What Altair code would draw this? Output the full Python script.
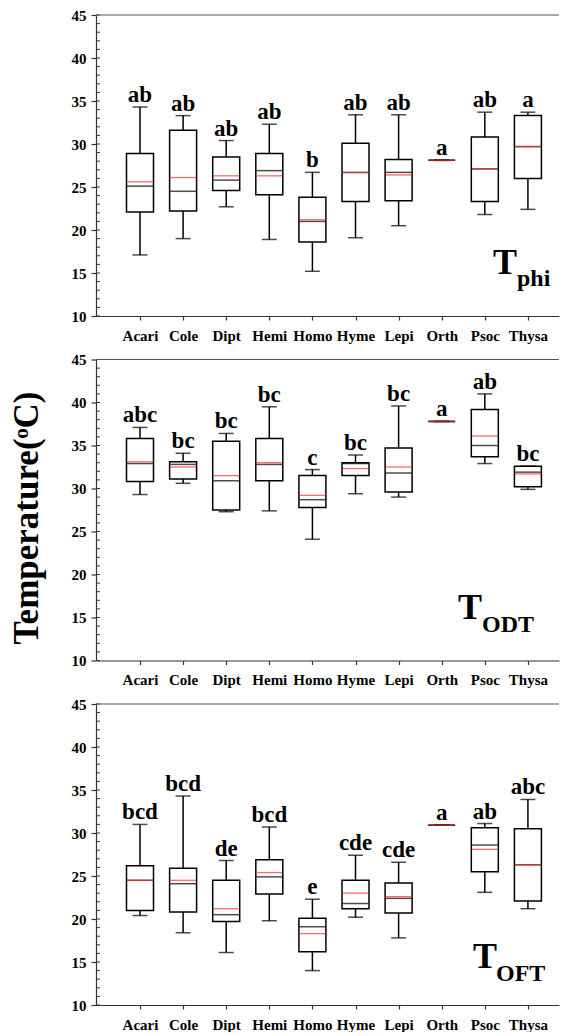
import altair as alt
import pandas as pd

CATEGORIES = ["Acari", "Cole", "Dipt", "Hemi", "Homo", "Hyme", "Lepi", "Orth", "Psoc", "Thysa"]

# Panel 1: T_phi
PHI_LO = [17.1, 19.0, 22.7, 18.9, 15.2, 19.1, 20.5, 28.1, 21.8, 22.4]
PHI_Q1 = [22.1, 22.2, 24.6, 24.1, 18.6, 23.3, 23.4, 28.1, 23.3, 26.0]
PHI_MED = [25.1, 24.5, 25.8, 26.9, 21.0, 26.7, 26.7, 28.1, 27.1, 29.7]
PHI_MEAN = [25.6, 26.1, 26.3, 26.3, 21.2, 26.7, 26.4, 28.1, 27.1, 29.7]
PHI_Q3 = [28.9, 31.6, 28.5, 28.9, 23.8, 30.1, 28.2, 28.1, 30.8, 33.3]
PHI_HI = [34.3, 33.3, 30.4, 32.3, 26.7, 33.4, 33.4, 28.1, 33.7, 33.7]
PHI_LETTERS = ["ab", "ab", "ab", "ab", "b", "ab", "ab", "a", "ab", "a"]

# Panel 2: T_ODT
ODT_LO = [29.3, 30.6, 27.3, 27.4, 24.1, 29.4, 29.0, 37.8, 32.9, 29.9]
ODT_Q1 = [30.8, 31.1, 27.5, 30.9, 27.8, 31.5, 29.6, 37.8, 33.7, 30.2]
ODT_MED = [32.9, 32.8, 30.9, 32.8, 28.7, 32.9, 31.8, 37.8, 35.0, 31.9]
ODT_MEAN = [33.1, 32.5, 31.5, 33.0, 29.2, 32.3, 32.5, 37.8, 36.1, 31.7]
ODT_Q3 = [35.8, 33.1, 35.5, 35.8, 31.5, 33.0, 34.7, 37.8, 39.2, 32.6]
ODT_HI = [37.1, 34.1, 36.4, 39.5, 32.2, 33.9, 39.6, 37.8, 41.0, 32.6]
ODT_LETTERS = ["abc", "bc", "bc", "bc", "c", "bc", "bc", "a", "ab", "bc"]

# Panel 3: T_OFT
OFT_LO = [20.4, 18.4, 16.1, 19.8, 14.0, 20.2, 17.8, 30.9, 23.1, 21.2]
OFT_Q1 = [21.0, 20.8, 19.7, 22.9, 16.2, 21.2, 20.7, 30.9, 25.5, 22.1]
OFT_MED = [24.5, 24.1, 20.5, 24.9, 19.1, 21.8, 22.4, 30.9, 28.6, 26.3]
OFT_MEAN = [24.5, 24.5, 21.2, 25.4, 18.3, 23.0, 22.6, 30.9, 28.1, 26.3]
OFT_Q3 = [26.2, 25.9, 24.5, 26.9, 20.1, 24.5, 24.2, 30.9, 30.6, 30.5]
OFT_HI = [31.0, 34.3, 26.8, 30.7, 22.3, 27.4, 26.6, 30.9, 31.1, 33.9]
OFT_LETTERS = ["bcd", "bcd", "de", "bcd", "e", "cde", "cde", "a", "ab", "abc"]

Y_TICKS = [10, 15, 20, 25, 30, 35, 40, 45]
MINOR_TICKS = [10, 11, 12, 13, 14, 15, 16, 17, 18, 19, 20, 21, 22, 23, 24, 25, 26, 27,
               28, 29, 30, 31, 32, 33, 34, 35, 36, 37, 38, 39, 40, 41, 42, 43, 44, 45]
Y_TITLE = "Temperature(ᵒC)"

FONT = "Liberation Serif"
W, H = 463, 301
AX = "#333333"


def panel(lo, q1, med, mean, q3, hi, letters, sub, show_title, tpos, spos):
    df = pd.DataFrame({"cat": CATEGORIES, "lo": lo, "q1": q1, "med": med,
                       "mean": mean, "q3": q3, "hi": hi, "letter": letters})
    title = Y_TITLE if show_title else None
    yscale = alt.Scale(domain=[10, 45], nice=False, zero=False)
    yaxis = alt.Axis(values=Y_TICKS, tickSize=5, labelPadding=5, grid=False,
                     labelFont=FONT, labelFontSize=15, labelFontWeight="bold",
                     labelColor="black", domainColor=AX, tickColor=AX,
                     titleX=-59, titleY=158, titleBaseline="alphabetic")
    x = alt.X("cat:N", sort=CATEGORIES, title=None,
              scale=alt.Scale(type="point", padding=0.871, align=0.586),
              axis=alt.Axis(labelAngle=0, tickSize=4, labelPadding=8,
                            labelFont=FONT, labelFontSize=15, labelFontWeight="bold",
                            labelColor="black", domainColor=AX, tickColor=AX))

    def Y(f):
        return alt.Y(f, scale=yscale, axis=yaxis, title=title)

    base = alt.Chart(df).encode(x=x)
    whisk = base.mark_rule(color="black", strokeWidth=1.5).encode(y=Y("lo:Q"), y2="hi:Q")
    cap_lo = base.mark_tick(color="black", size=15, thickness=1.5).encode(y=Y("lo:Q"))
    cap_hi = base.mark_tick(color="black", size=15, thickness=1.5).encode(y=Y("hi:Q"))
    box = base.mark_bar(size=27, fill="white", stroke="black", strokeWidth=1.5).encode(
        y=Y("q1:Q"), y2="q3:Q")
    median = base.mark_tick(color="black", size=26, thickness=1.5).encode(y=Y("med:Q"))
    meanl = base.mark_tick(color="#ff2a2a", size=26, thickness=1.3).encode(y=Y("mean:Q"))
    lett = base.mark_text(font=FONT, fontSize=23, fontWeight="bold", baseline="alphabetic",
                          dy=-5, color="black").encode(y=Y("hi:Q"), text="letter:N")

    minor = alt.Chart(pd.DataFrame({"v": MINOR_TICKS})).mark_rule(
        color=AX, strokeWidth=1).encode(y=Y("v:Q"), x=alt.value(0), x2=alt.value(4))
    top = alt.Chart(pd.DataFrame({"a": [0]})).mark_rule(color="#555555", strokeWidth=1.2).encode(
        y=alt.value(0))

    one = pd.DataFrame({"T": ["T"], "s": [sub]})
    tmark = alt.Chart(one).mark_text(font=FONT, fontSize=36, fontWeight="bold", align="left",
                                     baseline="alphabetic", color="black").encode(
        x=alt.value(tpos[0]), y=alt.value(tpos[1]), text="T:N")
    smark = alt.Chart(one).mark_text(font=FONT, fontSize=24, fontWeight="bold", align="left",
                                     baseline="alphabetic", color="black").encode(
        x=alt.value(spos[0]), y=alt.value(spos[1]), text="s:N")

    return alt.layer(minor, top, whisk, cap_lo, cap_hi, box, median, meanl, lett,
                     tmark, smark).properties(width=W, height=H)


p1 = panel(PHI_LO, PHI_Q1, PHI_MED, PHI_MEAN, PHI_Q3, PHI_HI, PHI_LETTERS, "phi", False,
           (397, 259), (421, 271))
p2 = panel(ODT_LO, ODT_Q1, ODT_MED, ODT_MEAN, ODT_Q3, ODT_HI, ODT_LETTERS, "ODT", True,
           (362, 259), (386, 272))
p3 = panel(OFT_LO, OFT_Q1, OFT_MED, OFT_MEAN, OFT_Q3, OFT_HI, OFT_LETTERS, "OFT", False,
           (377, 264), (400, 277))

chart = alt.vconcat(p1, p2, p3, spacing=43.5, bounds="flush").properties(
    padding={"left": 1, "top": 0, "right": 0, "bottom": 0}
).configure_view(strokeWidth=0).configure_axis(
    domainWidth=1.2, tickWidth=1.2,
    titleFont=FONT, titleFontSize=35, titleFontWeight="bold", titleColor="black"
)

chart.save("out.html", embed_options={"renderer": "svg", "actions": False})
